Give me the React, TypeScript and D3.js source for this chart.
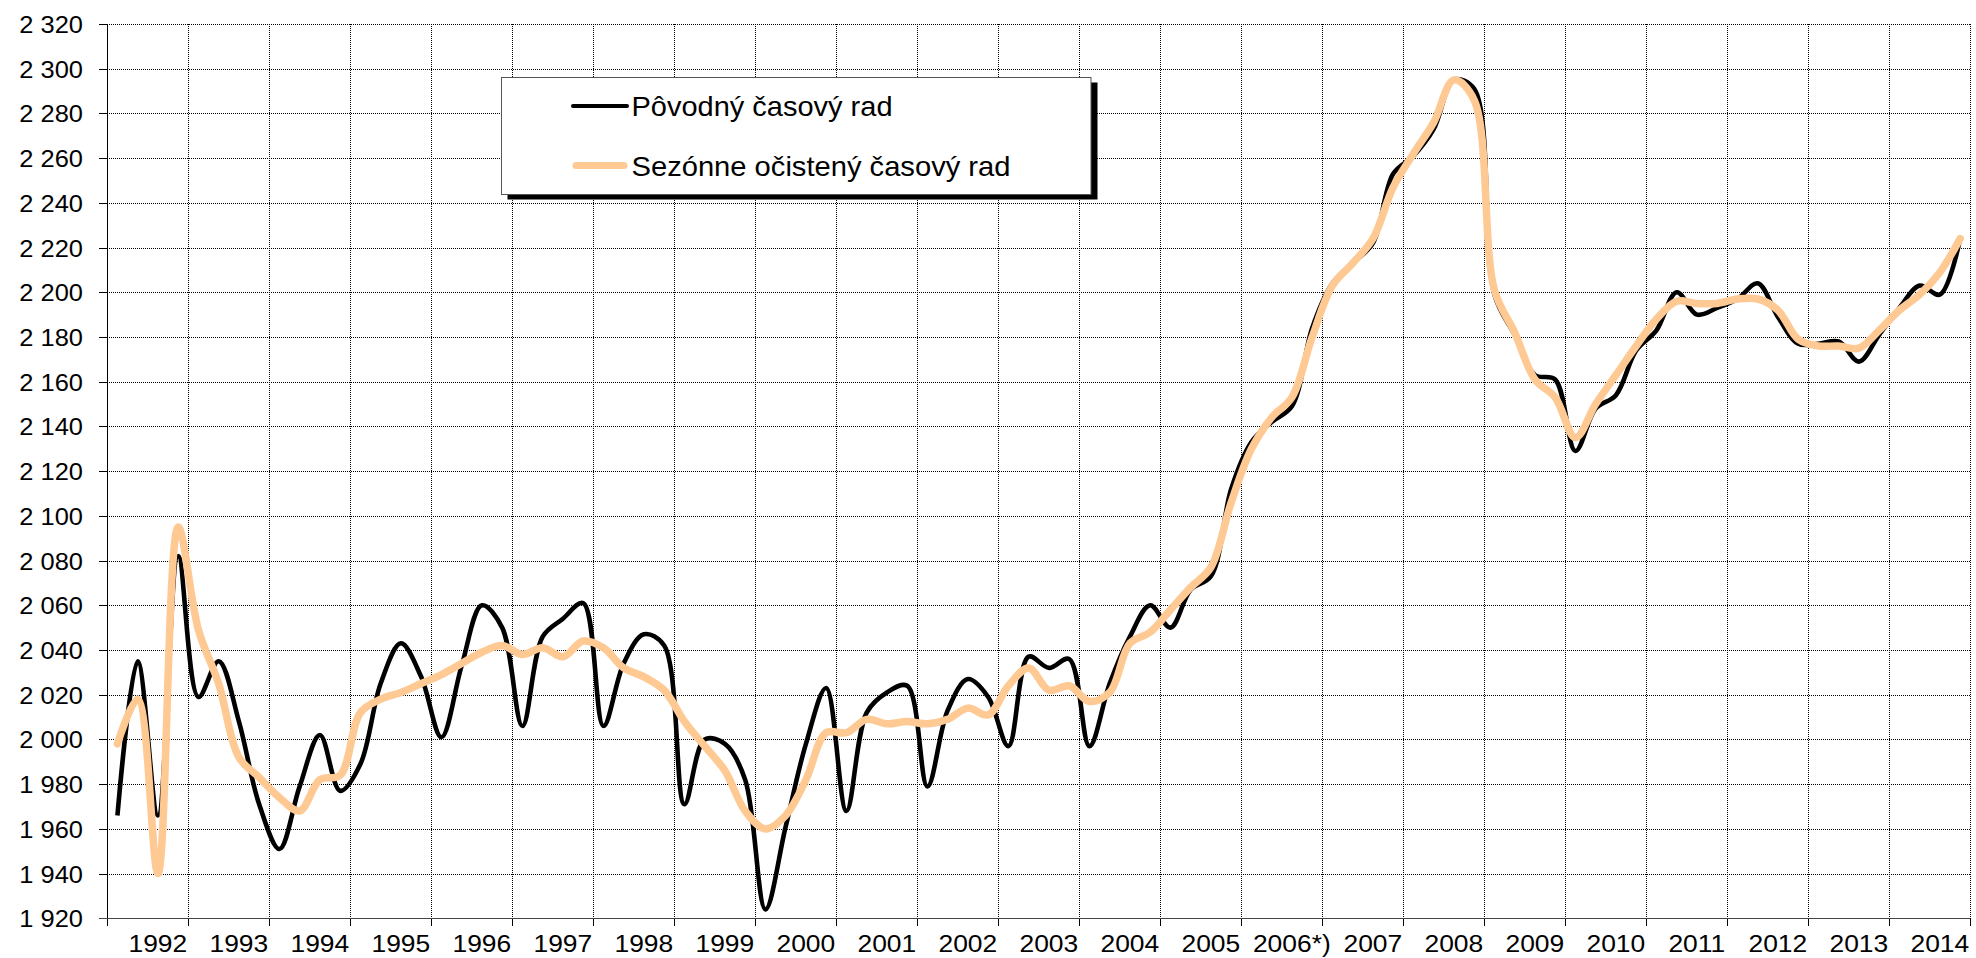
import React from 'react';
import * as d3 from 'd3';

// quarterly data 1992Q1 .. 2014Q4 (thousands of persons)
const years = [
  '1992', '1993', '1994', '1995', '1996', '1997', '1998', '1999', '2000', '2001', '2002', '2003',
  '2004', '2005', '2006*)', '2007', '2008', '2009', '2010', '2011', '2012', '2013', '2014',
];

const original = [
  1966, 2035, 1966, 2082,
  2019, 2035, 2008, 1971,
  1951, 1979, 2002, 1977,
  1989, 2025, 2043, 2028,
  2001, 2033, 2060, 2050,
  2006, 2046, 2054, 2061,
  2006, 2034, 2047, 2042,
  1971, 2000, 1998, 1982,
  1924, 1961, 1998, 2023,
  1968, 2012, 2021, 2024,
  1979, 2013, 2027, 2019,
  1997, 2037, 2032, 2036,
  1997, 2025, 2046, 2060,
  2050, 2067, 2073, 2112,
  2133, 2142, 2149, 2184,
  2204, 2213, 2222, 2253,
  2261, 2273, 2295, 2291,
  2199, 2181, 2163, 2161,
  2129, 2148, 2154, 2174,
  2183, 2200, 2190, 2193,
  2197, 2204, 2189, 2177,
  2177, 2178, 2169, 2181,
  2193, 2203, 2199, 2224,
];

const adjusted = [
  1998, 2018, 1940, 2095,
  2049, 2025, 1992, 1983,
  1974, 1968, 1982, 1984,
  2012, 2018, 2021, 2025,
  2029, 2034, 2039, 2042,
  2038, 2041, 2037, 2044,
  2041, 2032, 2028, 2022,
  2008, 1997, 1986, 1968,
  1960, 1966, 1982, 2003,
  2003, 2009, 2007, 2008,
  2007, 2009, 2014, 2011,
  2024, 2032, 2022, 2024,
  2017, 2021, 2043, 2048,
  2058, 2068, 2077, 2106,
  2130, 2144, 2153, 2180,
  2203, 2213, 2224, 2247,
  2262, 2276, 2295, 2286,
  2201, 2182, 2161, 2153,
  2135, 2150, 2163, 2176,
  2188, 2196, 2195, 2195,
  2197, 2197, 2192, 2179,
  2176, 2176, 2175, 2183,
  2192, 2199, 2209, 2224,
];

const seriesNames = ['Pôvodný časový rad', 'Sezónne očistený časový rad'];

const W = 1976;
const H = 958;
const left = 107.3;
const right = 1970.3;
const top = 24;
const bottom = 918.3;
const font = "'Liberation Sans', Arial, sans-serif";
const peach = '#ffc993';

const fmt = d3.formatLocale({ decimal: ',', thousands: ' ', grouping: [3], currency: ['', ''] }).format(',d');

const px = (v: number) => Math.round(v) + 0.5;

export default function App() {
  const x = d3.scaleBand<string>().domain(years).range([left, right]);
  const xq = d3.scaleLinear().domain([0, original.length]).range([left, right]);
  const y = d3.scaleLinear().domain([1920, 2320]).range([bottom, top]);

  const line = d3.line<number>()
    .x((_, i) => xq(i + 0.5))
    .y(d => y(d))
    .curve(d3.curveCatmullRom.alpha(0.5));

  const yTicks = y.ticks(20);
  const xEdges = years.map(yr => x(yr) as number).concat([right]);

  return (
    <svg width={W} height={H} style={{ position: 'absolute', left: 0, top: 0, background: '#fff' }}>
      {/* horizontal grid + ticks */}
      {yTicks.map(t => (
        <g key={t}>
          {t > 1920 && (
            <line x1={left} x2={right} y1={px(y(t))} y2={px(y(t))}
              stroke="#000" strokeDasharray="1 1" shapeRendering="crispEdges" />
          )}
          <line x1={left - 8} x2={left} y1={px(y(t))} y2={px(y(t))} stroke="#000" shapeRendering="crispEdges" />
          <text x={0} y={0} transform={`translate(83,${y(t) + 9}) scale(1.06,1)`} textAnchor="end"
            fontFamily={font} fontSize={24} fill="#000">{fmt(t)}</text>
        </g>
      ))}

      {/* vertical grid + ticks */}
      {xEdges.map((e, i) => (
        <g key={i}>
          {i > 0 && (
            <line x1={px(e)} x2={px(e)} y1={top} y2={bottom}
              stroke="#000" strokeDasharray="1 1" shapeRendering="crispEdges" />
          )}
          <line x1={px(e)} x2={px(e)} y1={bottom} y2={bottom + 8} stroke="#000" shapeRendering="crispEdges" />
        </g>
      ))}

      {/* axes */}
      <line x1={px(left)} x2={px(left)} y1={top} y2={bottom + 8} stroke="#000" shapeRendering="crispEdges" />
      <line x1={left - 8} x2={right} y1={px(bottom)} y2={px(bottom)} stroke="#444" shapeRendering="crispEdges" />

      {/* year labels */}
      {years.map(yr => (
        <text key={yr} x={0} y={0}
          transform={`translate(${(x(yr) as number) + x.bandwidth() / 2 + 10},951.5) scale(1.1,1)`}
          textAnchor="middle" fontFamily={font} fontSize={24} fill="#000">{yr}</text>
      ))}

      {/* series */}
      <path d={line(original) || ''} fill="none" stroke="#000" strokeWidth={4.6} strokeLinejoin="round" />
      <path d={line(adjusted) || ''} fill="none" stroke={peach} strokeWidth={7.5} strokeLinejoin="round" strokeLinecap="round" />

      {/* legend */}
      <rect x={507.5} y={82.5} width={590} height={117} fill="#000" />
      <rect x={501.5} y={77.5} width={589.5} height={117} fill="#fff" stroke="#555" />
      <line x1={573} x2={627} y1={106} y2={106} stroke="#000" strokeWidth={4} strokeLinecap="round" />
      <text x={631.5} y={116} fontFamily={font} fontSize={28} fill="#000"
        textLength={261} lengthAdjust="spacingAndGlyphs">{seriesNames[0]}</text>
      <line x1={576} x2={624} y1={165.5} y2={165.5} stroke={peach} strokeWidth={7} strokeLinecap="round" />
      <text x={631.5} y={175.5} fontFamily={font} fontSize={28} fill="#000"
        textLength={379} lengthAdjust="spacingAndGlyphs">{seriesNames[1]}</text>
    </svg>
  );
}
